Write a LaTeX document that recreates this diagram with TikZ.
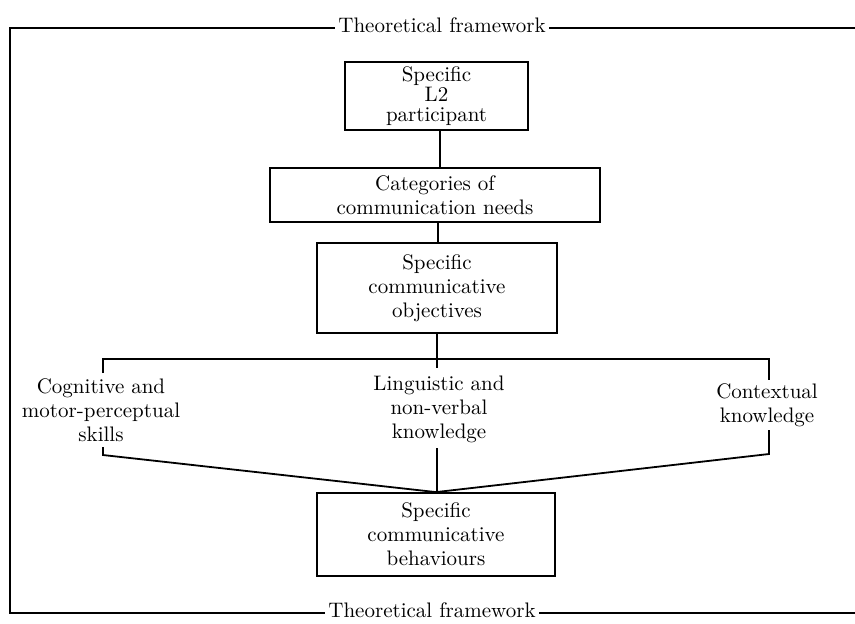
\documentclass[tikz,border=0pt]{standalone}
\begin{document}
\begin{tikzpicture}[x=0.5pt,y=-0.5pt,
  every node/.style={font=\fontsize{10.5}{12}\selectfont, align=center, inner sep=0pt},
  box/.style={draw, line width=0.9pt},
  ln/.style={line width=0.9pt},
  frm/.style={line width=1pt},
  lbl/.style={anchor=base, inner xsep=1.5pt}]
\useasboundingbox (0,0) rectangle (855,623);
% frame
\coordinate (tlft) at (10,28);
\coordinate (trt) at (855,28);
\coordinate (blft) at (10,613);
\coordinate (brt) at (855,613);
\node[lbl] (tl) at (442,32) {Theoretical framework};
\node[lbl] (bl) at (432,617) {Theoretical framework};
\draw[frm] (tl.west |- tlft) -- (tlft) -- (blft) -- (bl.west |- blft);
\draw[frm] (tl.east |- tlft) -- (trt);
\draw[frm] (bl.east |- blft) -- (brt);
% boxes
\node[box, minimum width=91.5pt, minimum height=34pt, font=\fontsize{10.5}{10}\selectfont] (b1) at (436.5,96) {Specific\\L2\\participant};
\node[box, minimum width=165pt, minimum height=27pt] (b2) at (435,195) {Categories of\\communication needs};
\node[box, minimum width=120pt, minimum height=45pt] (b3) at (437,288) {Specific\\communicative\\objectives};
\node[box, minimum width=119pt, minimum height=41.5pt] (b4) at (436,534.5) {Specific\\communicative\\behaviours};
% middle row
\node (cog) at (101,410) {Cognitive and\\motor-perceptual\\skills};
\node (ling) at (439,409) {Linguistic and\\non-verbal\\knowledge};
\node (ctx) at (767,405) {Contextual\\knowledge};
% connectors
\coordinate (c1) at (440,130);
\draw[ln] (c1) -- (c1 |- b2.north);
\coordinate (c2) at (438,222);
\draw[ln] (c2) -- (c2 |- b3.north);
\coordinate (tick) at (437,368);
\draw[ln] (b3.south) -- (b3.south |- tick);
\coordinate (cogt) at (103,373);
\coordinate (ctxt) at (769,380);
\coordinate (brk) at (0,359);
\draw[ln] (cogt) -- (cogt |- brk) -- (ctxt |- brk) -- (ctxt);
\coordinate (cogb1) at (103,447);
\coordinate (cogb2) at (103,455);
\coordinate (ctxb1) at (769,430);
\coordinate (ctxb2) at (769,454);
\coordinate (lingb) at (437,448);
\draw[ln] (cogb1) -- (cogb2) -- (b4.north);
\draw[ln] (ctxb1) -- (ctxb2) -- (b4.north);
\draw[ln] (lingb) -- (lingb |- b4.north);
\end{tikzpicture}
\end{document}
